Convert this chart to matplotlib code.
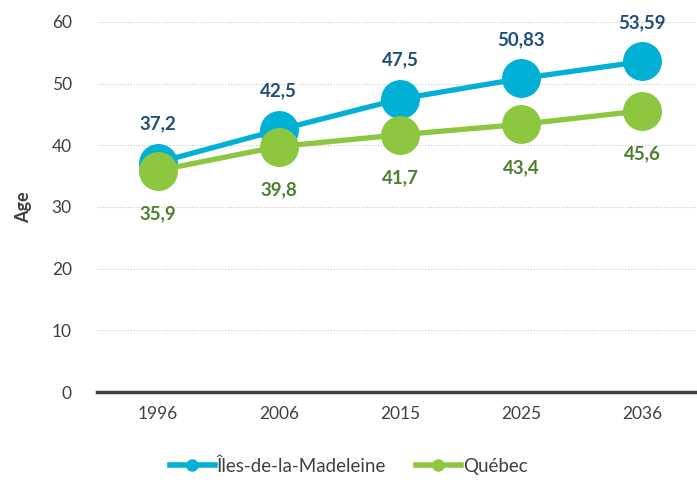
import numpy as np
import matplotlib
matplotlib.use("Agg")
import matplotlib.pyplot as plt

plt.rcParams['font.family'] = ['Lato', 'DejaVu Sans']

years = ['1996', '2006', '2015', '2025', '2036']
iles = [37.2, 42.5, 47.5, 50.83, 53.59]
quebec = [35.9, 39.8, 41.7, 43.4, 45.6]
iles_labels = ['37,2', '42,5', '47,5', '50,83', '53,59']
quebec_labels = ['35,9', '39,8', '41,7', '43,4', '45,6']

blue = '#00B1D5'
green = '#8DC63F'
dark_blue = '#1D4F7C'
dark_green = '#4E7F2E'

fig = plt.figure(figsize=(6.97, 4.87), dpi=100)
ax = fig.add_axes([0.139, 0.195, 0.861, 0.76])

x = np.arange(len(years))
ax.plot(x, iles, color=blue, lw=3.8, marker='o', ms=27, label='Îles-de-la-Madeleine', zorder=3)
ax.plot(x, quebec, color=green, lw=3.8, marker='o', ms=27, label='Québec', zorder=4)

for xi, v, t in zip(x, iles, iles_labels):
    ax.annotate(t, (xi, v), xytext=(0, 28), textcoords='offset points',
                ha='center', va='center', fontsize=13.5, fontweight='bold', color=dark_blue)
for xi, v, t in zip(x, quebec, quebec_labels):
    ax.annotate(t, (xi, v), xytext=(0, -31), textcoords='offset points',
                ha='center', va='center', fontsize=13.5, fontweight='bold', color=dark_green)

ax.set_ylim(0, 60)
ax.set_xlim(-0.5, 4.45)
ax.set_yticks(range(0, 61, 10))
ax.set_xticks(x)
ax.set_xticklabels(years)
ax.tick_params(length=0, labelsize=12.5, colors='#404040', pad=10)
ax.tick_params(axis='y', pad=18)
ax.yaxis.grid(True, linestyle=(0, (1, 1.5)), color='#C8C8C8', lw=0.8)
ax.set_axisbelow(True)
for s in ['top', 'right', 'left']:
    ax.spines[s].set_visible(False)
ax.spines['bottom'].set_color('#404040')
ax.spines['bottom'].set_linewidth(2.5)
ax.set_ylabel('Age', fontsize=13, fontweight='bold', color='#404040', labelpad=14)

leg = fig.legend(loc='lower center', bbox_to_anchor=(0.5, -0.01), ncol=2, frameon=False,
                 fontsize=13.5, handlelength=2.4, handletextpad=0.1, columnspacing=1.6)
for h in leg.legend_handles:
    h.set_markersize(8)
    h.set_linewidth(4)
for t in leg.get_texts():
    t.set_color('#404040')

fig.savefig('out.png', dpi=100)
